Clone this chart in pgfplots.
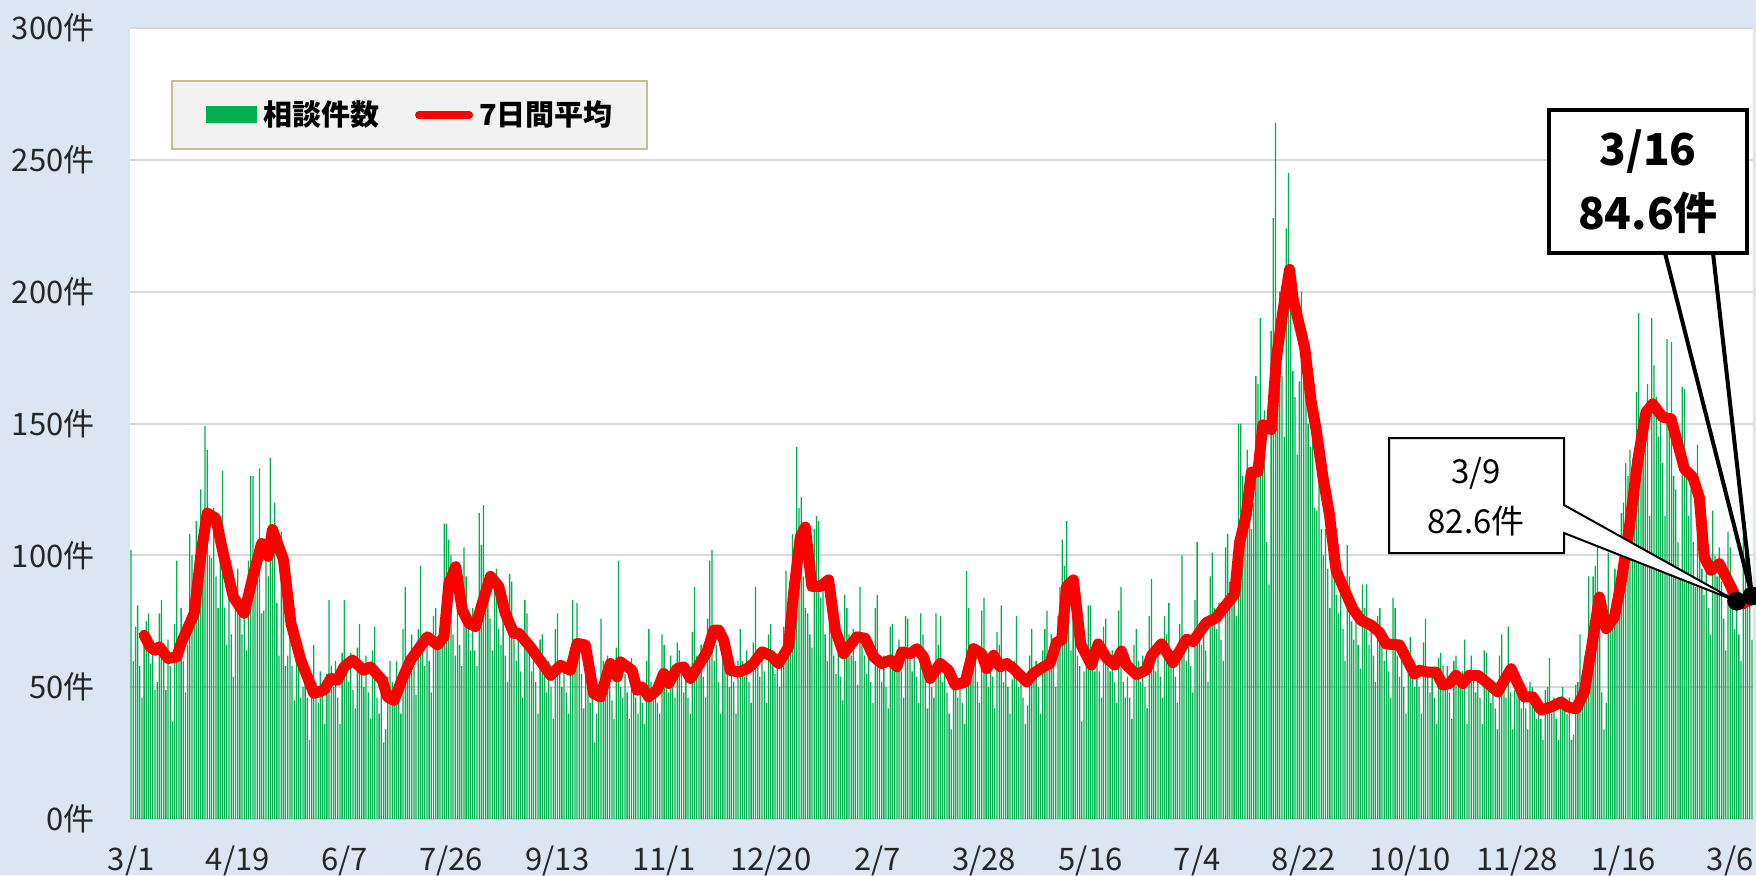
\documentclass[border=0pt]{standalone}
\usepackage{pgfplots}
\pgfplotsset{compat=1.18}
\usepackage{pgfplotstable}
\usepackage{fontspec}
\setmainfont{Noto Sans CJK JP}
\definecolor{bgc}{RGB}{220,230,242}
\definecolor{barg}{RGB}{0,176,80}
\definecolor{gridc}{RGB}{217,217,217}
\definecolor{legfill}{RGB}{242,242,242}
\definecolor{legbord}{RGB}{196,189,151}

\pgfplotstableread[row sep=\\]{
n\\
102\\60\\73\\81\\58\\46\\68\\
75\\78\\59\\65\\49\\52\\78\\
83\\62\\49\\68\\58\\37\\74\\
98\\62\\80\\60\\48\\66\\108\\
100\\92\\113\\100\\125\\91\\149\\
140\\100\\99\\118\\92\\80\\113\\
132\\80\\66\\88\\70\\54\\84\\
95\\82\\70\\84\\64\\98\\130\\
130\\88\\95\\133\\78\\79\\100\\
92\\137\\105\\120\\82\\62\\109\\
96\\58\\62\\72\\58\\45\\71\\
62\\46\\50\\58\\46\\30\\55\\
66\\52\\44\\56\\48\\36\\55\\
83\\58\\50\\60\\46\\36\\63\\
83\\56\\52\\63\\49\\42\\65\\
74\\60\\50\\62\\48\\38\\64\\
73\\46\\40\\48\\29\\34\\54\\
60\\52\\44\\60\\50\\40\\72\\
88\\62\\55\\70\\58\\47\\72\\
96\\64\\58\\70\\60\\48\\77\\
80\\68\\72\\73\\112\\112\\106\\
100\\70\\62\\84\\66\\58\\103\\
92\\72\\64\\80\\64\\58\\116\\
104\\119\\88\\92\\76\\64\\87\\
95\\72\\66\\78\\62\\52\\93\\
90\\68\\60\\70\\56\\46\\83\\
78\\64\\56\\62\\52\\40\\68\\
70\\58\\48\\60\\50\\38\\72\\
78\\58\\50\\60\\48\\40\\65\\
83\\64\\82\\62\\55\\42\\60\\
52\\44\\46\\29\\40\\45\\76\\
60\\52\\62\\56\\45\\38\\65\\
98\\50\\46\\55\\48\\38\\61\\
55\\46\\40\\52\\44\\36\\60\\
72\\52\\45\\52\\44\\40\\70\\
66\\52\\48\\62\\58\\46\\67\\
64\\55\\48\\58\\46\\40\\71\\
88\\62\\56\\66\\54\\46\\76\\
98\\102\\60\\66\\52\\40\\62\\
68\\58\\50\\62\\52\\40\\60\\
72\\60\\54\\64\\52\\44\\67\\
88\\60\\54\\64\\56\\44\\70\\
74\\62\\55\\60\\50\\60\\73\\
94\\70\\90\\108\\100\\141\\118\\
122\\92\\80\\78\\70\\65\\110\\
115\\113\\84\\88\\70\\60\\86\\
78\\62\\55\\66\\54\\45\\85\\
80\\70\\62\\72\\60\\51\\88\\
70\\62\\55\\64\\52\\44\\80\\
85\\58\\52\\62\\50\\42\\73\\
74\\62\\58\\68\\56\\46\\77\\
76\\64\\56\\66\\54\\44\\78\\
70\\58\\42\\52\\50\\46\\78\\
66\\77\\52\\58\\48\\40\\34\\
56\\50\\46\\52\\44\\36\\94\\
80\\62\\58\\64\\52\\44\\79\\
84\\56\\50\\62\\54\\42\\71\\
66\\81\\52\\60\\50\\40\\53\\
60\\77\\50\\54\\46\\36\\43\\
62\\72\\55\\60\\50\\40\\64\\
72\\79\\62\\70\\60\\50\\77\\
88\\106\\96\\113\\88\\64\\80\\
72\\62\\58\\37\\56\\58\\81\\
81\\62\\56\\66\\56\\46\\73\\
76\\62\\56\\64\\52\\44\\79\\
88\\52\\46\\54\\46\\38\\66\\
72\\60\\52\\62\\50\\42\\77\\
91\\64\\56\\64\\54\\46\\77\\
70\\82\\58\\64\\54\\44\\74\\
100\\68\\60\\70\\58\\48\\83\\
105\\72\\66\\76\\64\\52\\92\\
101\\80\\72\\82\\68\\60\\103\\
108\\90\\82\\92\\77\\150\\150\\
130\\125\\140\\128\\110\\120\\168\\
165\\190\\145\\155\\105\\89\\185\\
228\\264\\185\\200\\168\\145\\224\\
245\\205\\170\\160\\138\\166\\200\\
180\\165\\150\\141\\150\\118\\117\\
135\\110\\100\\110\\95\\80\\119\\
105\\85\\78\\88\\72\\60\\104\\
92\\75\\68\\78\\66\\57\\89\\
80\\89\\66\\74\\62\\52\\77\\
80\\68\\60\\68\\56\\46\\84\\
80\\62\\54\\60\\50\\40\\64\\
69\\58\\50\\58\\50\\40\\67\\
76\\54\\48\\56\\46\\36\\61\\
63\\58\\50\\58\\48\\38\\60\\
62\\56\\50\\56\\68\\36\\54\\
62\\56\\48\\56\\46\\36\\64\\
63\\52\\44\\50\\42\\34\\62\\
70\\52\\46\\73\\48\\34\\49\\
56\\48\\42\\50\\42\\34\\52\\
50\\44\\38\\44\\38\\30\\49\\
50\\61\\40\\46\\38\\30\\46\\
50\\44\\40\\46\\30\\32\\51\\
52\\70\\55\\62\\58\\92\\59\\
92\\96\\110\\82\\48\\34\\44\\
101\\72\\80\\95\\90\\76\\116\\
120\\135\\130\\140\\122\\125\\162\\
192\\150\\140\\150\\165\\115\\190\\
172\\160\\145\\155\\135\\115\\182\\
150\\181\\130\\125\\105\\93\\164\\
163\\130\\115\\125\\105\\88\\142\\
110\\95\\85\\108\\80\\70\\117\\
100\\92\\103\\90\\76\\64\\109\\
103\\80\\72\\82\\70\\60\\107\\
113\\80\\94\\68\\
}\bars

\begin{document}
\begin{tikzpicture}
\useasboundingbox (0,0) rectangle (878pt,437.5pt);
\clip (0,0) rectangle (878pt,437.5pt);
\fill[bgc] (0,0) rectangle (878pt,437.5pt);
\begin{axis}[
  at={(65pt,28pt)}, anchor=south west,
  scale only axis, width=811.5pt, height=395.5pt,
  xmin=-0.5, xmax=745.5, ymin=0, ymax=300,
  axis background/.style={fill=white},
  axis line style={draw=none},
  major tick length=0pt,
  ytick={0,50,100,150,200,250,300},
  yticklabels={0件,50件,100件,150件,200件,250件,300件},
  xtick={0,49,98,147,196,245,294,343,392,441,490,539,588,637,686,735},
  xticklabels={3/1,4/19,6/7,7/26,9/13,11/1,12/20,2/7,3/28,5/16,7/4,8/22,10/10,11/28,1/16,3/6},
  ymajorgrids, grid style={line width=1pt, color=gridc},
  tick label style={font=\fontsize{15.5pt}{18pt}\selectfont, text=black!85},
  yticklabel style={anchor=east, inner sep=0pt, xshift=-17.5pt},
  xticklabel style={anchor=north, inner sep=0pt, yshift=-13pt},
  legend columns=2,
  legend style={at={(0.0253,0.9343)}, anchor=north west, draw=legbord, line width=1pt,
    fill=legfill, inner xsep=17pt, inner ysep=10pt,
    font=\bfseries\fontsize{14.5pt}{17pt}\selectfont,
    nodes={inner sep=0pt},
    /tikz/every odd column/.append style={column sep=3pt},
    /tikz/every even column/.append style={column sep=18pt}},
]
\addplot[ybar, bar width=0.65pt, fill=barg, draw=none,
  legend image code/.code={\fill[barg] (0pt,-4.25pt) rectangle (25.5pt,4.25pt);}]
  table[x expr=\coordindex, y=n] {\bars};
\addlegendentry{相談件数}
\addplot[red, line width=5.5pt, line join=round, line cap=round,
  legend image code/.code={\draw[red, line width=3.8pt, line cap=round] (1.9pt,0pt) -- (27.1pt,0pt);}]
  coordinates {
(6,69.7) (9,65) (11,64) (13,65.3) (17,60.9) (21,61.5) (23,66.6) (27,74.2) (29,78) (32,99.6)
(35,116) (39,114) (42,102) (47,84.2) (52,78) (56,92) (60,104.5) (63,99.6) (65,109.8) (70,98.4)
(73.5,74.2) (78,60.3) (84,47.6) (88.7,48.9) (91.8,53.3) (94.8,52.6) (97.9,57.7) (101.7,60.3)
(107,56.4) (110,57.7) (115.5,52.6) (117.8,46.3) (120.9,45) (124.7,53.3) (128.5,60.3) (134,66.6)
(136.2,69.1) (140.8,66) (143.8,69.1) (146.1,89.4) (149.2,95.7) (152.2,79.3) (155.3,74.2)
(158.3,73) (161.4,81.8) (165.2,92) (169,88.2) (172,78) (175.9,70.4) (178.2,70.4) (183.5,65.3)
(189.6,58.3) (192.8,54.5) (197.4,58.3) (201.9,56.4) (205,66.6) (208.8,66) (212.6,47.6)
(215.7,46.3) (220.3,59) (223.4,53.9) (224.9,59.6) (230.3,56.4) (232.6,48.9) (234.9,50.1)
(237.9,46.3) (241.8,48.9) (244.8,55.2) (247.1,51.4) (251,57.1) (254,57.7) (257.1,53.3)
(260.9,58.3) (264.7,63.4) (267.8,71.6) (270.1,71.6) (272.4,67.8) (275.4,56.4) (279.3,55.7)
(283.1,57) (286.1,59) (290,63.4) (293.8,62.1) (297.6,59) (302.2,65.3) (304.5,85.6) (307.6,107)
(309.9,110.7) (312.9,88.2) (316.8,88.2) (320.6,90.7) (323.7,71.6) (327.5,62.7) (333.6,69.1)
(337.4,68.5) (341.3,61.5) (345.1,59) (349,60.3) (352,57.7) (354.3,63.4) (358.1,62.7)
(361.2,64.6) (364.2,61.5) (367.3,53.3) (371.9,59) (375.7,56.4) (378.8,50.8) (383.4,52)
(387.2,64.6) (391,62.7) (393.3,57) (396.4,62.1) (399.4,57.7) (402.5,59) (405.6,57) (408.6,54.5)
(411.7,52) (414.7,55.2) (419.3,57.7) (422.4,59) (425.4,67) (427.7,67.8) (430,88.2) (433.1,90.7)
(436.5,66.3) (441.4,58.4) (444.5,66.4) (448.3,61.1) (452.1,58.4) (455.2,63.7) (457.5,58.4)
(462.1,54.8) (466.7,56.6) (469,62) (473.6,66.4) (478.9,59.3) (485.1,68.2) (488.1,67.3)
(494.2,74.5) (498.8,76.3) (501.1,78.9) (507.2,85.2) (509.5,104.8) (512.6,115.5) (514.9,131.6)
(517.9,131.6) (520.2,149.5) (524.1,147.7) (526.4,174.5) (529.4,192.4) (532.5,208.5) (534,197.7)
(539.4,179) (542.4,158.4) (544.7,147.7) (547.8,129.8) (550.8,115.5) (553.9,94.1) (557.7,86.9)
(561.5,79.8) (565.4,75.3) (570,73.5) (573.8,70.8) (576.9,66.4) (583,66) (586.1,61) (589.9,55)
(592.2,56.4) (596,55.7) (599.8,55.7) (602.9,50.8) (606,51.4) (609,54.5) (612.1,51.4)
(615.1,54.5) (619,54.5) (622.8,52) (628.2,48.2) (631.2,52.6) (634.3,57) (637.4,51.4)
(640.4,46.3) (644.3,46.3) (648.1,41.3) (652.7,42.5) (657.3,44.4) (660.3,42.5) (664.2,41.8)
(668,48.2) (671.1,64) (674.9,84.2) (678,72.2) (681.8,76.6) (684.8,89.4) (688.7,110.8)
(692.5,136) (696.3,154.3) (699.4,157.4) (704,152.4) (707.8,151.8) (710.9,142.3) (714,132.8)
(717.8,129.7) (720.8,122) (723.1,99.3) (726.2,94.3) (730,96.8) (733.9,90.5) (736.9,85.4)
(738,82.6) (740.8,81.6) (743.8,82.9) (745,84.6)
  };
\addlegendentry{7日間平均}
\addplot[only marks, mark=*, mark size=4.5pt, black, forget plot] coordinates {(738,82.6) (745,84.6)};
\coordinate (tipA) at (axis cs:738,82.6);
\coordinate (tipB) at (axis cs:745,84.6);
\end{axis}
% callout 3/9 (filled, with wedge)
\draw[fill=white, line width=1pt, line join=miter]
  (694.5pt,218.5pt) -- (782pt,218.5pt) -- (782pt,185pt) -- (tipA) -- (782pt,171pt)
  -- (782pt,161pt) -- (694.5pt,161pt) -- cycle;
\node[font=\fontsize{16.5pt}{19pt}\selectfont] at (738pt,201pt) {3/9};
\node[font=\fontsize{16.5pt}{19pt}\selectfont] at (738pt,177pt) {82.6件};
% callout 3/16
\draw[line width=2pt, line join=miter] (832.5pt,311pt) -- (tipB) -- (856.5pt,311pt);
\draw[fill=white, line width=2pt] (774.5pt,311pt) rectangle (873.5pt,382.5pt);
\node[font=\bfseries\fontsize{22pt}{26pt}\selectfont] at (824pt,361.5pt) {3/16};
\node[font=\bfseries\fontsize{22pt}{26pt}\selectfont] at (824pt,331pt) {84.6件};
\end{tikzpicture}
\end{document}
